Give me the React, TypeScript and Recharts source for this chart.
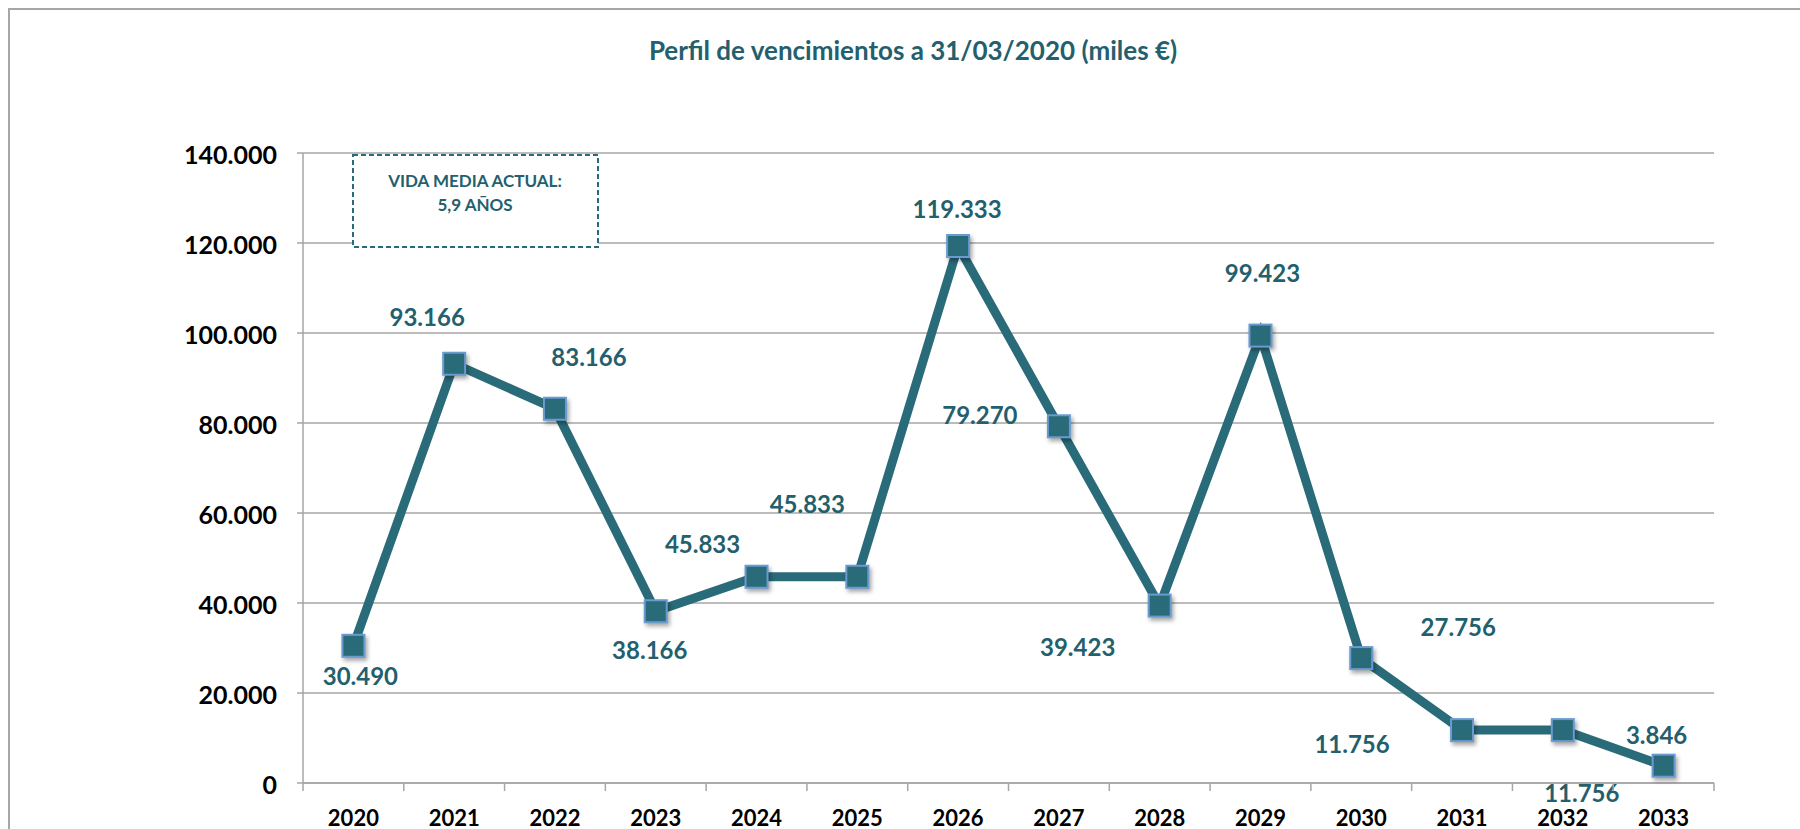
import React from "react";
import { LineChart, Line, XAxis, YAxis, CartesianGrid } from "recharts";

const years = ["2020", "2021", "2022", "2023", "2024", "2025", "2026", "2027", "2028", "2029", "2030", "2031", "2032", "2033"];
const maturities = [30490, 93166, 83166, 38166, 45833, 45833, 119333, 79270, 39423, 99423, 27756, 11756, 11756, 3846];
const yTicks = [0, 20000, 40000, 60000, 80000, 100000, 120000, 140000];

// where each value label sits relative to its marker (Excel's manual placement)
const labelShift = [
	[7, 30], [-27, -47], [34, -52], [-6, 38], [-54, -33], [-50, -73], [-1, -38],
	[-79, -12], [-82, 41], [2, -63], [97, -32], [-110, 13], [19, 62], [-7, -31]
];

const TITLE = "Perfil de vencimientos a 31/03/2020 (miles €)";
const NOTE = ["VIDA MEDIA ACTUAL:", "5,9 AÑOS"];

const data = years.map((y, i) => ({ year: y, value: maturities[i] }));

const W = 1800;
const H = 829;
const TOP = 153;
const RIGHT = 86;
const YAXIS_W = 303;
const XAXIS_H = 46;
const BAND = (W - RIGHT - YAXIS_W) / years.length;

const TEAL = "#2A6B7A";
const TEXT_TEAL = "#245F6E";
const GREY = "#A6A6A6";
const FONT = "Lato, 'Open Sans', sans-serif";

const fmt = (n: number) => String(n).replace(/\B(?=(\d{3})+(?!\d))/g, ".");

function Marker(props: any) {
	const { cx, cy, index, value } = props;
	if (cx == null || cy == null) return null;
	const s = labelShift[index] || [0, -30];
	return (
		<g key={"m" + index}>
			<rect
				x={cx - 11}
				y={cy - 11}
				width={22}
				height={22}
				fill={TEAL}
				stroke="#6A9BD0"
				strokeWidth={2}
				style={{ filter: "drop-shadow(2px 3px 2px rgba(0,0,0,0.35))" }}
			/>
			<text
				x={cx + s[0]}
				y={cy + s[1]}
				textAnchor="middle"
				dominantBaseline="central"
				fill={TEXT_TEAL}
				fontFamily={FONT}
				fontWeight={700}
				fontSize={24}
			>
				{fmt(value)}
			</text>
		</g>
	);
}

function YearTick(props: any) {
	const { x, payload, index } = props;
	const axisY = H - XAXIS_H;
	const left = x - BAND / 2;
	return (
		<g>
			<line x1={left} y1={axisY} x2={left} y2={axisY + 8} stroke={GREY} strokeWidth={1.5} />
			{index === years.length - 1 && (
				<line x1={left + BAND} y1={axisY} x2={left + BAND} y2={axisY + 8} stroke={GREY} strokeWidth={1.5} />
			)}
			<text
				x={x}
				y={axisY + 34}
				textAnchor="middle"
				dominantBaseline="central"
				fill="#000"
				fontFamily={FONT}
				fontWeight={700}
				fontSize={22}
			>
				{payload.value}
			</text>
		</g>
	);
}

export default function App() {
	return (
		<div style={{ position: "absolute", left: 0, top: 0, width: W, height: H, background: "#fff", overflow: "hidden" }}>
			<div
				style={{
					position: "absolute",
					left: 8,
					top: 8,
					width: W,
					height: H,
					borderTop: "2px solid " + GREY,
					borderLeft: "2px solid " + GREY
				}}
			/>
			<div
				style={{
					position: "absolute",
					left: 913 - 400,
					top: 34,
					width: 800,
					textAlign: "center",
					color: TEXT_TEAL,
					fontFamily: FONT,
					fontWeight: 700,
					fontSize: 26
				}}
			>
				{TITLE}
			</div>
			<div style={{ position: "absolute", left: 0, top: 0 }}>
				<LineChart
					width={W}
					height={H}
					data={data}
					margin={{ top: TOP, right: RIGHT, left: 0, bottom: 0 }}
				>
					<CartesianGrid vertical={false} stroke={GREY} strokeWidth={1.5} />
					<XAxis
						dataKey="year"
						height={XAXIS_H}
						padding={{ left: BAND / 2, right: BAND / 2 }}
						axisLine={{ stroke: GREY, strokeWidth: 1.5 }}
						tickLine={false}
						interval={0}
						tick={<YearTick />}
					/>
					<YAxis
						width={YAXIS_W}
						domain={[0, 140000]}
						ticks={yTicks}
						interval={0}
						tickFormatter={fmt}
						axisLine={{ stroke: GREY, strokeWidth: 1.5 }}
						tickLine={{ stroke: GREY, strokeWidth: 1.5 }}
						tickSize={6}
						tickMargin={20}
						tick={{ fill: "#000", fontFamily: FONT, fontWeight: 700, fontSize: 25, dy: 2 }}
					/>
					<Line
						type="linear"
						dataKey="value"
						stroke={TEAL}
						strokeWidth={9}
						dot={<Marker />}
						activeDot={false}
						isAnimationActive={false}
					/>
				</LineChart>
			</div>
			<svg style={{ position: "absolute", left: 0, top: 0 }} width={W} height={H}>
				<rect x={353} y={155} width={245} height={92} fill="#fff" stroke={TEAL} strokeWidth={2} strokeDasharray="5 3" />
				{NOTE.map((t, i) => (
					<text
						key={t}
						x={475}
						y={180 + i * 24}
						textAnchor="middle"
						dominantBaseline="central"
						fill={TEXT_TEAL}
						fontFamily={FONT}
						fontWeight={700}
						fontSize={17}
					>
						{t}
					</text>
				))}
			</svg>
		</div>
	);
}
